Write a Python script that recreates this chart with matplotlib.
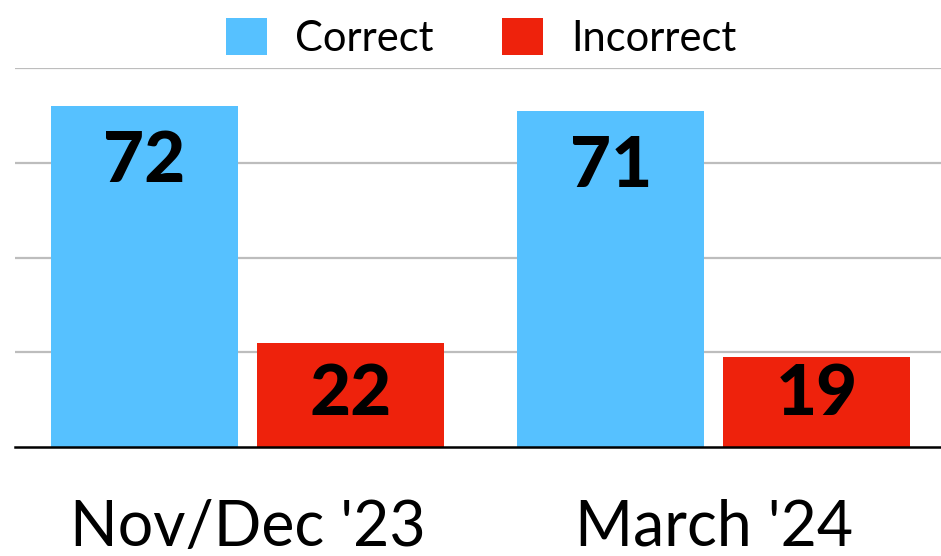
import matplotlib.pyplot as plt
from matplotlib.patches import Patch
from matplotlib import transforms
import numpy as np

# データ
periods = ["Nov/Dec '23", "March '24"]
series_names = ["Correct", "Incorrect"]
correct = [72, 71]
incorrect = [22, 19]
colors = ["#56C1FF", "#EE220C"]

plt.rcParams["font.family"] = ["Lato", "DejaVu Sans"]

W, H = 941, 556
ax_top, ax_bottom = 68, 447
ymax = 80
px_per_unit = (ax_bottom - ax_top) / ymax

fig = plt.figure(figsize=(W / 100, H / 100), dpi=100)
ax = fig.add_axes([15 / W, (H - ax_bottom) / H, (W - 15) / W,
                   (ax_bottom - ax_top) / H])

x = np.arange(len(periods))
bar_w = 0.401
offset = 0.221
for vals, col, sign in [(correct, colors[0], -1), (incorrect, colors[1], 1)]:
    bars = ax.bar(x + sign * offset, vals, width=bar_w, color=col, zorder=2)
    for b, v in zip(bars, vals):
        # ラベルは上端から内側へ。低い棒では底から一定の位置に留める
        dy = min(76, v * px_per_unit - 32)
        ax.annotate(str(v), (b.get_x() + b.get_width() / 2, v),
                    xytext=(0, -dy), textcoords="offset pixels",
                    ha="center", va="baseline", fontsize=51,
                    fontweight="black", color="black", zorder=3)

ax.set_xlim(-0.498, 1.487)
ax.set_ylim(0, ymax)
ax.set_yticks([20, 40, 60, 80])
ax.yaxis.grid(True, color="#BDBDBD", linewidth=1.6)
ax.set_axisbelow(True)
ax.tick_params(axis="y", left=False, labelleft=False)
ax.tick_params(axis="x", bottom=False, labelbottom=False)
for s in ["top", "right", "left"]:
    ax.spines[s].set_visible(False)
ax.spines["bottom"].set_color("black")
ax.spines["bottom"].set_linewidth(1.8)
ax.spines["bottom"].set_zorder(4)

# カテゴリラベル（下端に大きく）
trans = transforms.blended_transform_factory(ax.transData, fig.transFigure)
for xi, lab in zip(x, periods):
    ax.text(xi, (H - 546) / H, lab, transform=trans, ha="center",
            va="baseline", fontsize=45, color="black", clip_on=False)

handles = [Patch(facecolor=c, edgecolor="none") for c in colors]
fig.legend(handles, series_names, loc="center",
           bbox_to_anchor=(481 / W, 1 - 38 / H), ncol=2, frameon=False,
           fontsize=30, handlelength=1.0, handleheight=1.0,
           handletextpad=0.67, columnspacing=1.63, borderpad=0,
           borderaxespad=0)

fig.savefig("out.png", dpi=100)
